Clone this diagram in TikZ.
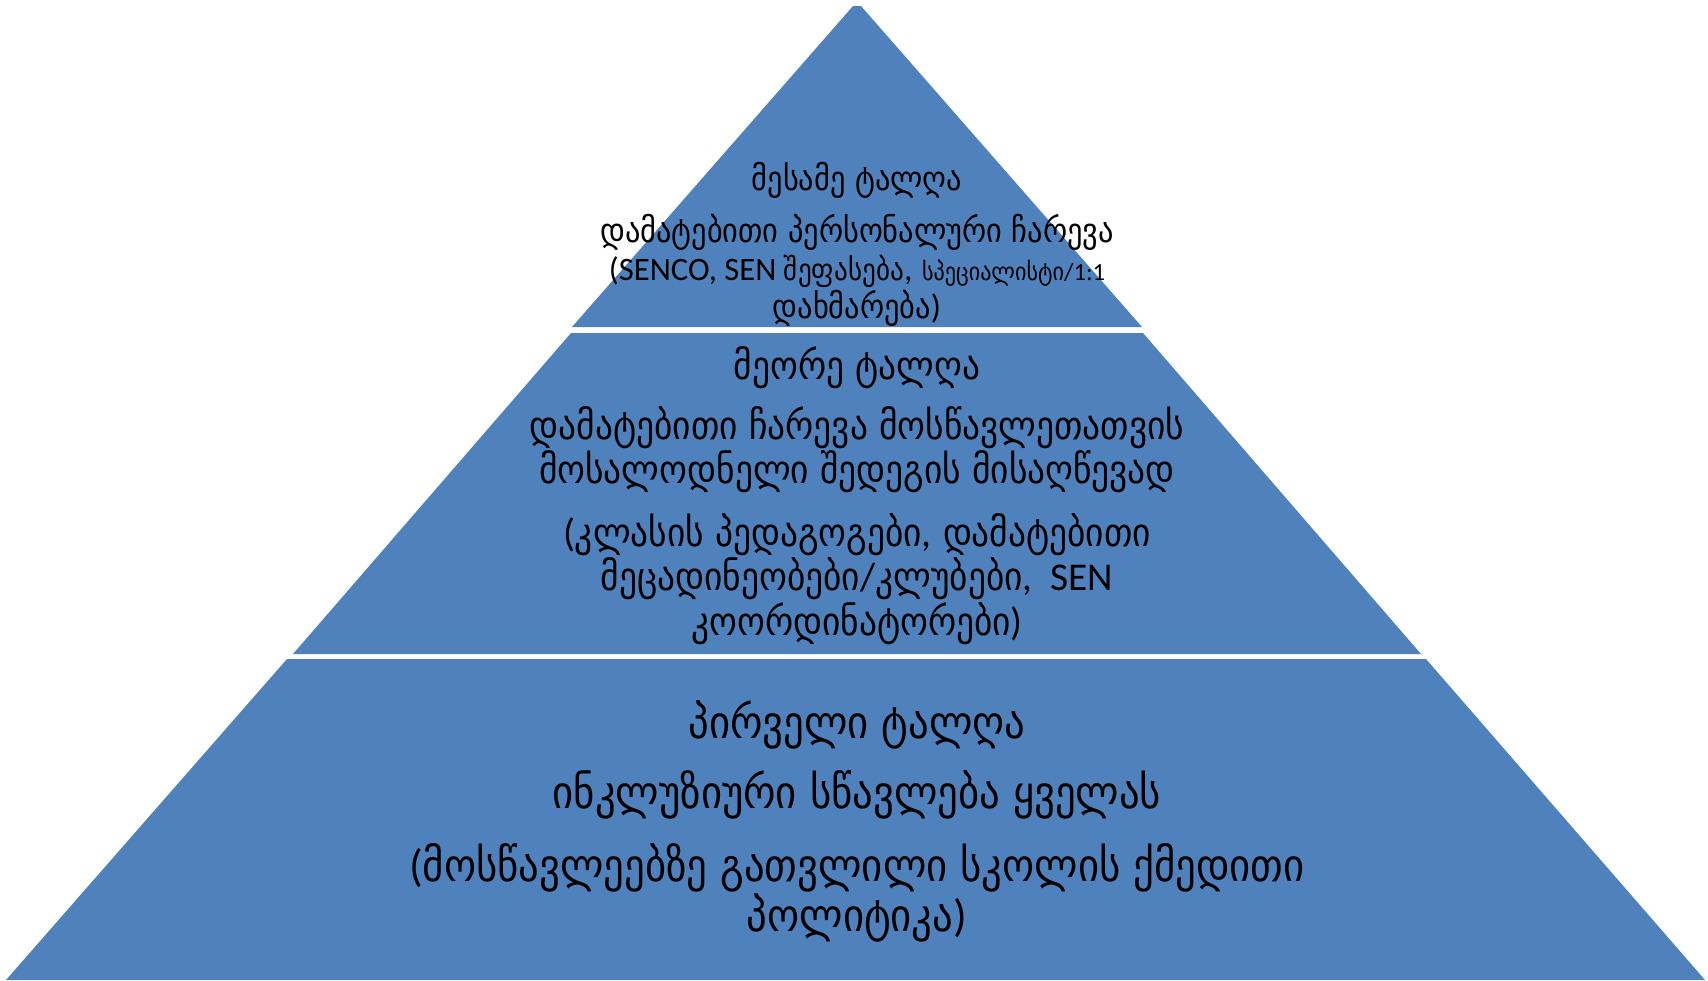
\documentclass[tikz,border=0pt]{standalone}
\usepackage{fontspec}
\setmainfont{DejaVu Sans Condensed}
\newfontfamily\latinfont{Carlito}
\usetikzlibrary{positioning}
\definecolor{tierblue}{RGB}{79,129,189}
\tikzset{
  tier/.style={
    fill=tierblue,
    draw=none
  },
  wavetext/.style={
    align=center,
    text=black,
    inner sep=0pt
  },
  topsize/.style={font=\fontsize{9.6}{10.8}\selectfont},
  midsize/.style={font=\fontsize{11.2}{12.6}\selectfont},
  lowsize/.style={font=\fontsize{12.9}{14.2}\selectfont}
}

\begin{document}
\begin{tikzpicture}[x=0.1mm,y=-0.1mm]
  \useasboundingbox (0,0) rectangle (1708,980);

  % tiers
  \fill[tier] (853,6) -- (861,6) -- (1142,327) -- (572,327) -- cycle;
  \fill[tier] (571,333) -- (1143,333) -- (1421,654) -- (293,654) -- cycle;
  \fill[tier] (287,659) -- (1426,659) -- (1705,980) -- (6,980) -- cycle;

  % third wave
  \node[wavetext, topsize] (thirdtitle) at (857,180) {მესამე ტალღა};
  \node[wavetext, topsize] (thirdbody) at (857,270)
    {დამატებითი პერსონალური ჩარევა\\
     {\latinfont\fontsize{9.3}{10.8}\selectfont (SENCO, SEN }{\fontsize{8.6}{10.8}\selectfont შეფასება}{\latinfont ,} {\fontsize{7}{8}\selectfont სპეციალისტი{\latinfont /1:1}}\\
     დახმარება{\latinfont )}};

  % second wave
  \node[wavetext, midsize] (secondtitle) at (857,368) {მეორე ტალღა};
  \node[wavetext, midsize] (secondaim) at (857,450)
    {დამატებითი ჩარევა მოსწავლეთათვის\\
     მოსალოდნელი შედეგის მისაღწევად};
  \node[wavetext, midsize] (secondwho) at (857,579)
    {{\latinfont (}კლასის პედაგოგები{\latinfont ,} დამატებითი\\
     მეცადინეობები{\latinfont /}კლუბები{\latinfont ,\ \ SEN}\\
     კოორდინატორები{\latinfont )}};

  % first wave
  \node[wavetext, lowsize] (firsttitle) at (857,725) {პირველი ტალღა};
  \node[wavetext, lowsize] (firstaim) at (857,795) {ინკლუზიური სწავლება ყველას};
  \node[wavetext, lowsize] (firstwho) at (857,893)
    {{\latinfont (}მოსწავლეებზე გათვლილი სკოლის ქმედითი\\
     პოლიტიკა{\latinfont )}};
\end{tikzpicture}
\end{document}
